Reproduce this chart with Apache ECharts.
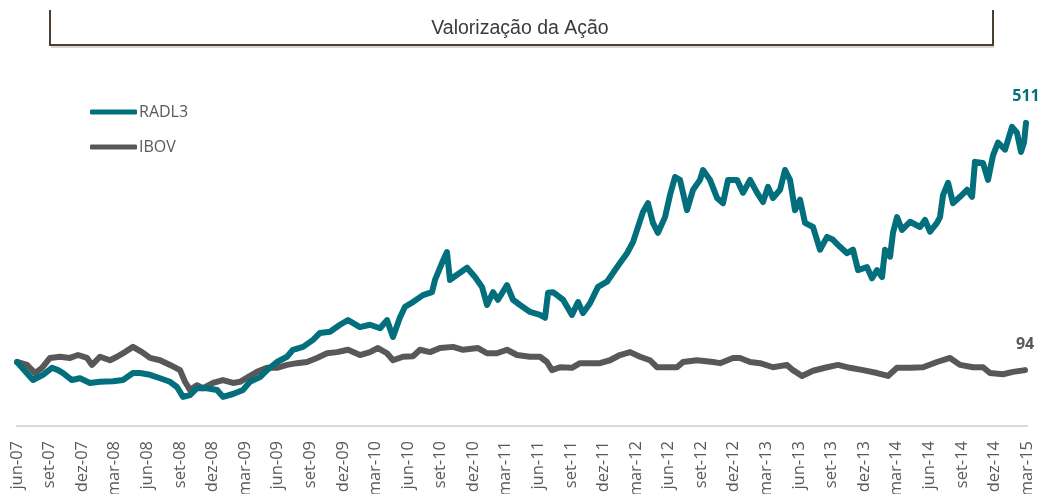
<!DOCTYPE html>
<html>
<head>
<meta charset="utf-8">
<script src="https://cdn.jsdelivr.net/npm/echarts@6/dist/echarts.min.js"></script>
<style>
html,body{margin:0;padding:0;background:#fff;}
#chart{width:1040px;height:494px;}
</style>
</head>
<body>
<div id="chart"></div>
<script>
// quarterly tick labels (x in months since jun-07, one label every 3 months)
const tickLabels = ['jun-07','set-07','dez-07','mar-08','jun-08','set-08','dez-08','mar-09','jun-09','set-09','dez-09','mar-10','jun-10','set-10','dez-10','mar-11','jun-11','set-11','dez-11','mar-12','jun-12','set-12','dez-12','mar-13','jun-13','set-13','dez-13','mar-14','jun-14','set-14','dez-14','mar-15'];

const seriesNames = ['RADL3','IBOV'];
const endLabels = ['511','94'];

// RADL3 (months since jun-07, index value)
const radlMonths = [0,1.47,2.39,3.22,3.78,4.24,5.06,5.8,6.72,7.64,8.84,9.76,10.68,11.33,12.25,13.17,14.09,14.73,15.29,15.93,16.57,17.5,18.42,18.97,19.89,20.81,21.45,22.38,23.02,23.94,24.86,25.41,26.34,27.26,27.9,28.82,29.74,30.48,30.66,31.58,32.5,33.43,34.07,34.62,35.27,35.73,36.46,37.38,38.21,38.49,39.13,39.59,39.87,40.52,41.44,42.17,42.82,43.28,43.83,44.29,45.12,45.67,46.32,47.24,48.16,48.62,48.9,49.36,50.28,51.1,51.66,52.12,52.76,53.5,54.33,54.88,55.52,56.17,56.72,57.64,58.1,58.56,59.02,59.67,60.13,60.59,61.05,61.69,62.25,62.89,63.17,63.81,64.46,65.01,65.47,66.3,66.85,67.5,68.14,68.69,69.15,69.61,70.26,70.72,71.18,71.64,72.1,72.56,73.3,73.94,74.59,75.14,75.78,76.43,76.98,77.44,78.27,78.73,79.19,79.65,79.93,80.39,80.66,81.03,81.49,82.23,83.15,83.61,84.07,84.71,84.99,85.27,85.73,86.19,86.83,87.48,87.94,88.21,88.95,89.41,89.87,90.33,90.98,91.62,92.08,92.45,92.73,92.91];
const radlValues = [100,69,78,90,86,81,69,72,64,66,67,69,81,81,78,72,66,57,40,43,55,55,52,40,45,52,66,74,86,100,109,121,126,138,150,152,164,172,169,160,164,158,172,143,177,195,203,215,220,241,270,289,241,250,262,246,229,198,220,207,232,207,198,186,181,176,219,220,207,181,203,184,201,229,238,253,270,287,306,358,373,339,322,349,387,418,413,361,396,413,430,413,382,373,413,413,391,413,391,375,401,382,396,430,413,361,379,339,332,293,315,310,298,287,293,258,263,244,258,246,293,281,322,349,327,341,332,344,324,339,349,387,408,373,384,396,384,444,442,413,455,477,465,504,494,461,478,511];

// IBOV (months since jun-07, index value)
const ibovMonths = [0,0.92,1.66,2.3,3.04,3.96,4.88,5.62,6.45,6.91,7.64,8.56,9.21,9.94,10.68,11.51,12.25,13.17,14.09,15.01,15.47,15.93,16.57,17.13,18.05,18.97,19.89,20.53,21.27,22.1,23.02,23.94,24.86,25.78,26.7,27.62,28.55,29.47,30.48,31.58,32.5,33.24,34.07,34.62,35.54,36.46,37.11,38.03,38.95,40.15,41.07,42.45,43.28,44.2,45.12,46.04,47.24,48.16,48.8,49.26,50,51.1,51.84,52.76,53.68,54.6,55.52,56.45,57.37,58.29,58.93,59.85,60.77,61.33,62.62,64.09,64.73,65.93,66.57,67.5,68.42,69.61,70.9,71.45,72.28,73.3,74.59,75.6,76.7,77.9,79.19,80.2,81.03,82.23,83.43,84.71,85.91,86.83,88.03,88.95,89.59,90.79,91.71,92.82];
const ibovValues = [100,95,81,90,107,109,107,112,107,95,109,103,109,117,126,117,107,103,95,86,66,52,60,55,64,69,64,66,74,83,90,90,95,98,100,107,115,117,121,112,117,124,115,103,109,110,121,117,124,126,121,124,115,115,121,112,109,109,100,86,91,90,98,98,98,103,112,117,109,103,91,91,91,100,103,100,98,107,107,100,98,91,95,86,76,85,91,95,90,86,81,76,90,90,91,100,107,95,91,91,81,79,83,86];

const radlColor = '#036e7c';
const ibovColor = '#58585b';

function pairs(xs, ys) {
  return xs.map((m, i) => [m, ys[i]]);
}

function endLabel(text, color) {
  return {
    show: true,
    formatter: text,
    color: color,
    fontSize: 16,
    fontWeight: 'bold',
    fontFamily: 'Open Sans',
    distance: 0,
    align: 'center',
    verticalAlign: 'middle',
    offset: [0, -26]
  };
}

const chart = echarts.init(document.getElementById('chart'), null, {renderer: 'canvas'});
chart.setOption({
  backgroundColor: '#ffffff',
  animation: false,
  title: {
    text: 'Valorização da Ação',
    left: 'center',
    top: 14,
    textStyle: {fontSize: 19.5, fontWeight: 'normal', color: '#3f3a36', fontFamily: 'Liberation Sans'}
  },
  graphic: [
    {type: 'polyline', shape: {points: [[50,10],[50,45],[993,45],[993,10]]},
     style: {stroke: '#4b3f34', lineWidth: 2, fill: null}, z: 10},
    {type: 'line', shape: {x1: 51, y1: 47, x2: 994, y2: 47},
     style: {stroke: '#b0aaa4', lineWidth: 1}, z: 9}
  ],
  legend: {
    orient: 'vertical',
    left: 90,
    top: 104,
    padding: 0,
    itemWidth: 47,
    itemHeight: 5,
    itemGap: 19,
    icon: 'roundRect',
    data: seriesNames,
    textStyle: {fontSize: 16, color: '#595959', fontFamily: 'Open Sans', padding: [0,0,0,-3]}
  },
  grid: {left: 17, right: 13, top: 42, bottom: 68, containLabel: false, outerBoundsMode: 'none'},
  xAxis: {
    type: 'value',
    min: 0,
    max: 93,
    interval: 3,
    axisLine: {show: true, onZero: false, lineStyle: {color: '#d9d9d9', width: 2}},
    axisTick: {show: false},
    splitLine: {show: false},
    axisLabel: {
      rotate: 90,
      margin: 15,
      fontSize: 16.5,
      color: '#595959',
      fontFamily: 'Open Sans',
      showMinLabel: true,
      showMaxLabel: true,
      formatter: function (v) { return tickLabels[Math.round(v / 3)] || ''; }
    }
  },
  yAxis: {
    type: 'value',
    min: -10,
    max: 650,
    show: false,
    splitLine: {show: false}
  },
  series: [
    {
      name: 'IBOV',
      type: 'line',
      data: pairs(ibovMonths, ibovValues),
      showSymbol: false,
      symbol: 'none',
      color: ibovColor,
      lineStyle: {width: 6, color: ibovColor, cap: 'round', join: 'round'},
      endLabel: endLabel(endLabels[1], ibovColor),
      z: 2
    },
    {
      name: 'RADL3',
      type: 'line',
      data: pairs(radlMonths, radlValues),
      showSymbol: false,
      symbol: 'none',
      color: radlColor,
      lineStyle: {width: 6, color: radlColor, cap: 'round', join: 'round'},
      endLabel: endLabel(endLabels[0], radlColor),
      z: 3
    }
  ]
});
</script>
</body>
</html>
